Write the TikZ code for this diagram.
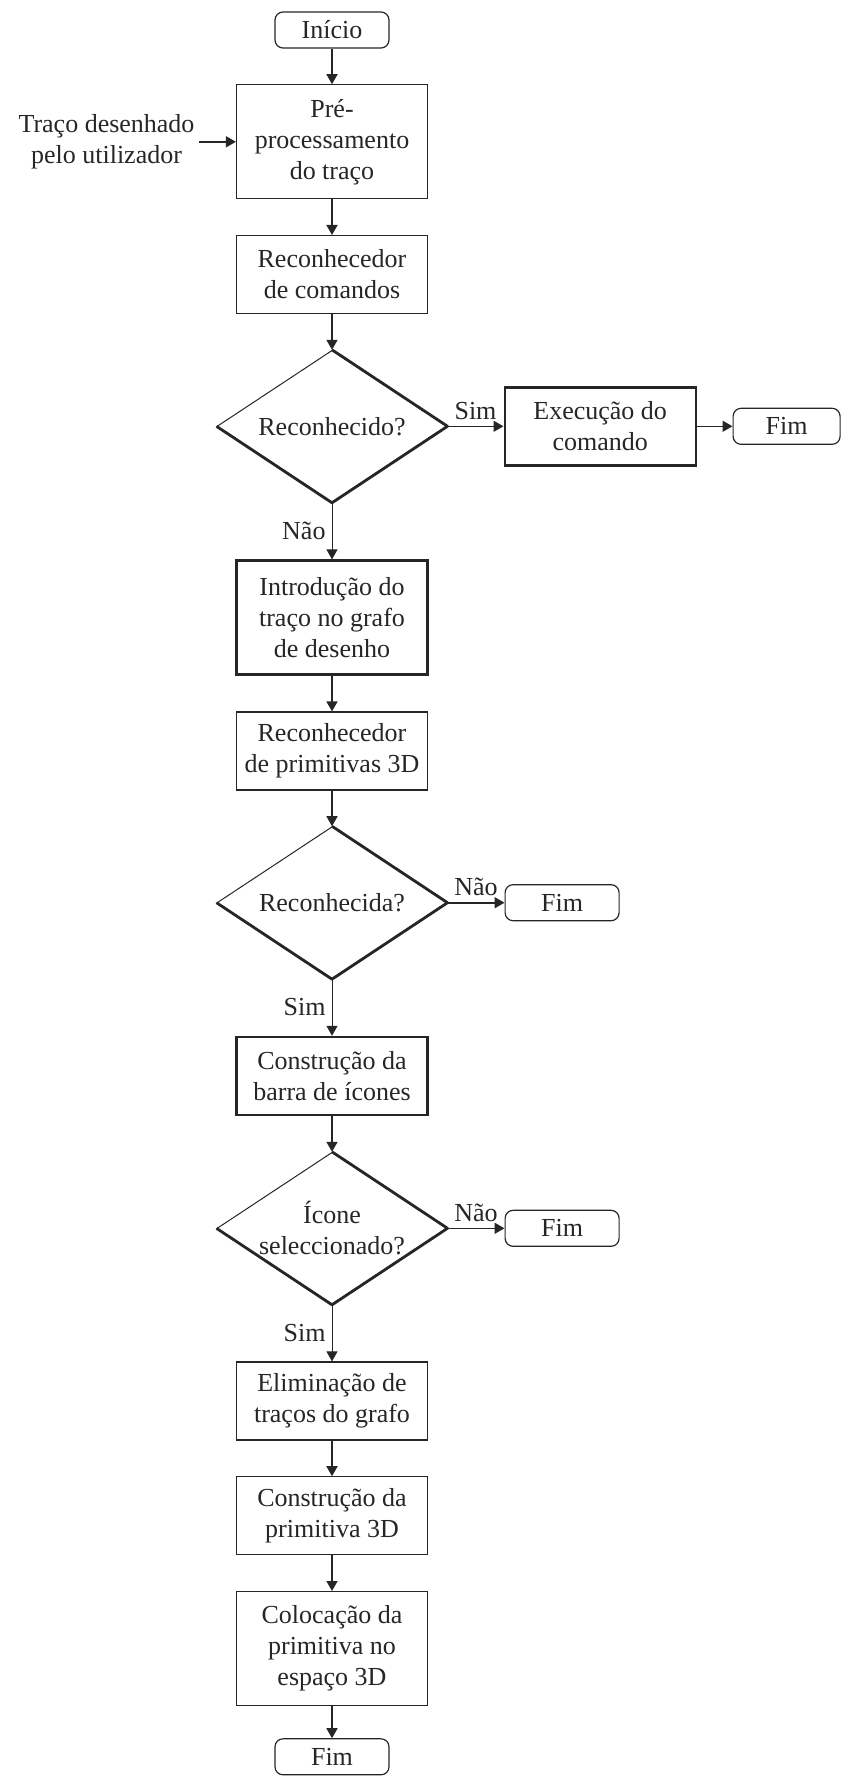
\documentclass[tikz,border=0pt]{standalone}
\usepackage{fontspec}
\setmainfont{Liberation Serif}
\usetikzlibrary{arrows.meta,positioning,shapes.geometric}
\definecolor{Ink}{HTML}{262626}

\begin{document}
\begin{tikzpicture}[node distance=17.8pt,
    every node/.style={font=\fontsize{13}{15.5}\selectfont,text=Ink},
    box/.style={draw=Ink,line width=0.6pt,minimum width=95.5pt,
                minimum height=39pt,inner sep=2pt,align=center},
    term/.style={draw=Ink,line width=0.6pt,rounded corners=4pt,
                 minimum width=57pt,minimum height=18pt,inner sep=1pt},
    decision/.style={diamond,draw=Ink,line width=0.5pt,aspect=1.5,
                 inner sep=0pt,minimum width=115pt,minimum height=76pt,
                 align=center},
    flow/.style={-{Triangle[length=5pt,width=5.5pt]},line width=0.8pt,draw=Ink},
    lbl/.style={inner sep=3pt}]

    \useasboundingbox (0,0) rectangle (421pt,-888pt);

    % coluna principal
    \node[term] (inicio) at (166pt,-15pt) {Início};
    \node[box,minimum height=57pt] (pre) [below=of inicio] {Pré-\\processamento\\do traço};
    \node[box] (rcmd) [below=of pre] {Reconhecedor\\de comandos};
    \node[decision] (d1) [below=of rcmd] {Reconhecido?};
    \node[box,line width=1.2pt,minimum height=57pt] (intro) [below=28.3pt of d1]
          {Introdução do\\traço no grafo\\de desenho};
    \node[box] (rprim) [below=of intro] {Reconhecedor\\de primitivas 3D};
    \node[decision] (d2) [below=of rprim] {Reconhecida?};
    \node[box,line width=1.2pt] (barra) [below=28.3pt of d2] {Construção da\\barra de ícones};
    \node[decision] (d3) [below=of barra] {Ícone\\seleccionado?};
    \node[box] (elim) [below=28.3pt of d3] {Eliminação de\\traços do grafo};
    \node[box] (cprim) [below=of elim] {Construção da\\primitiva 3D};
    \node[box,minimum height=57pt] (coloc) [below=of cprim]
          {Colocação da\\primitiva no\\espaço 3D};
    \node[term] (fim4) [below=16pt of coloc] {Fim};

    % ramos laterais
    \node[box,line width=1.2pt] (exec) [right=28pt of d1] {Execução do\\comando};
    \node[term,minimum width=53.5pt] (fim1) [right=of exec] {Fim};
    \node[term] (fim2) [right=28.5pt of d2] {Fim};
    \node[term] (fim3) [right=28.5pt of d3] {Fim};
    \node[align=center,inner sep=2pt] (user) [left=18.5pt of pre]
          {Traço desenhado\\pelo utilizador};

    % losangos com sombra
    \foreach \d in {d1,d2,d3}{
      \draw[Ink,line width=1.4pt,line join=round]
        (\d.north) -- (\d.east) -- (\d.south) -- (\d.west);
    }

    \foreach \a/\b in {inicio/pre,pre/rcmd,rcmd/d1,intro/rprim,rprim/d2,
                       barra/d3,elim/cprim,cprim/coloc,coloc/fim4,
                       exec/fim1,user/pre}{
      \draw[flow] (\a) -- (\b);
    }

    \draw[flow] (d1) -- (exec) node[midway,above,lbl]{Sim};
    \draw[flow,line width=0.5pt] (d1) -- (intro) node[midway,left,lbl]{Não};
    \draw[flow] (d2) -- (fim2) node[midway,above,lbl]{Não};
    \draw[flow,line width=0.5pt] (d2) -- (barra) node[midway,left,lbl]{Sim};
    \draw[flow] (d3) -- (fim3) node[midway,above,lbl]{Não};
    \draw[flow,line width=0.5pt] (d3) -- (elim) node[midway,left,lbl]{Sim};
  \end{tikzpicture}
\end{document}
